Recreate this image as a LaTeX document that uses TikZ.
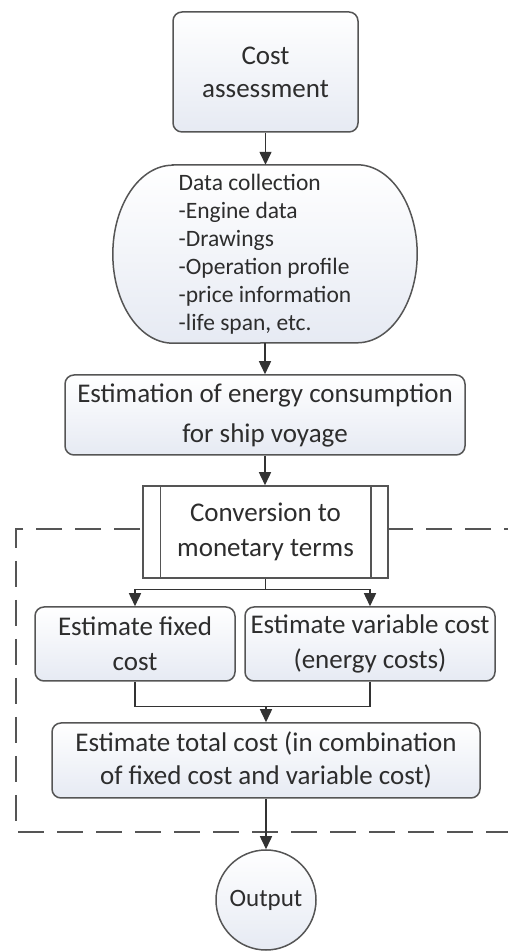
\documentclass[tikz,border=0pt]{standalone}
\usepackage{fontspec}
\setmainfont{Carlito}
\usepackage{tikz}
\usetikzlibrary{arrows.meta}
\usetikzlibrary{backgrounds}

\definecolor{linegray}{RGB}{85,85,85}
\definecolor{boxblue}{RGB}{230,234,243}
\definecolor{textgray}{RGB}{45,45,45}

\begin{document}
\begin{tikzpicture}[x=1pt,y=1pt,
    box/.style={draw=linegray, line width=1.5pt, rounded corners=9pt, top color=white, bottom color=boxblue, align=center, inner sep=0pt, text=textgray, font=\fontsize{27}{33}\selectfont},
    link/.style={draw=black!80, line width=1.5pt, -{Triangle[length=13pt,width=12pt]}},
    line/.style={draw=black!80, line width=1.5pt}]
    \useasboundingbox (0,0) rectangle (507,952);
    \draw[linegray, line width=1.5pt, dash pattern=on 26pt off 13pt] (530,423) -- (16,423) -- (16,120) -- (530,120);
    \node[box, minimum width=185, minimum height=120] (cost) at (265.5,880) {Cost\\assessment};
    \node[minimum width=304, minimum height=178, inner sep=0pt, align=left, text=textgray, font=\fontsize{23.5}{28}\selectfont] (data) at (265,698) {Data collection\\-Engine data\\-Drawings\\-Operation profile\\-price information\\-life span, etc.};
    \begin{scope}[on background layer]
    \draw[linegray, line width=1.5pt, top color=white, bottom color=boxblue] ([xshift=60pt]data.north west) -- ([xshift=-60pt]data.north east) arc[start angle=90, end angle=-90, x radius=60pt, y radius=89pt] -- ([xshift=60pt]data.south west) arc[start angle=270, end angle=90, x radius=60pt, y radius=89pt] -- cycle;
    \end{scope}
    \node[box, minimum width=400, minimum height=80, font=\fontsize{27}{40}\selectfont] (est) at (265,537) {Estimation of energy consumption\\for ship voyage};
    \node[box, rounded corners=0pt, top color=white, bottom color=white, minimum width=245, minimum height=92, font=\fontsize{27}{35}\selectfont] (conv) at (265.5,420) {Conversion to\\monetary terms};
    \draw[linegray, line width=1.5pt] ([xshift=18pt]conv.north west) -- ([xshift=18pt]conv.south west);
    \draw[linegray, line width=1.5pt] ([xshift=-18pt]conv.north east) -- ([xshift=-18pt]conv.south east);
    \node[box, minimum width=200, minimum height=74, font=\fontsize{27}{35}\selectfont] (fixed) at (135,308) {Estimate fixed\\cost};
    \node[box, minimum width=250, minimum height=74, font=\fontsize{27}{35}\selectfont] (var) at (370,308) {Estimate variable cost\\(energy costs)};
    \node[box, minimum width=428, minimum height=75] (total) at (266,191.5) {Estimate total cost (in combination\\of fixed cost and variable cost)};
    \node[box, circle, minimum size=100, font=\fontsize{25}{30}\selectfont] (out) at (266,52) {Output};
    \draw[link] (cost.south) -- (cost.south |- data.north);
    \draw[link] (data.south) -- (est.north);
    \draw[link] (est.south) -- (est.south |- conv.north);
    \draw[line] (conv.south) -- ++(0,-11) coordinate (split);
    \draw[link] (split) -| (fixed.north);
    \draw[link] (split) -| (var.north);
    \draw[line] (fixed.south) -- ++(0,-25) coordinate (join) -| (var.south);
    \draw[link] (join -| total.north) -- (total.north);
    \draw[link] (total.south) -- (out.north);
\end{tikzpicture}
\end{document}
